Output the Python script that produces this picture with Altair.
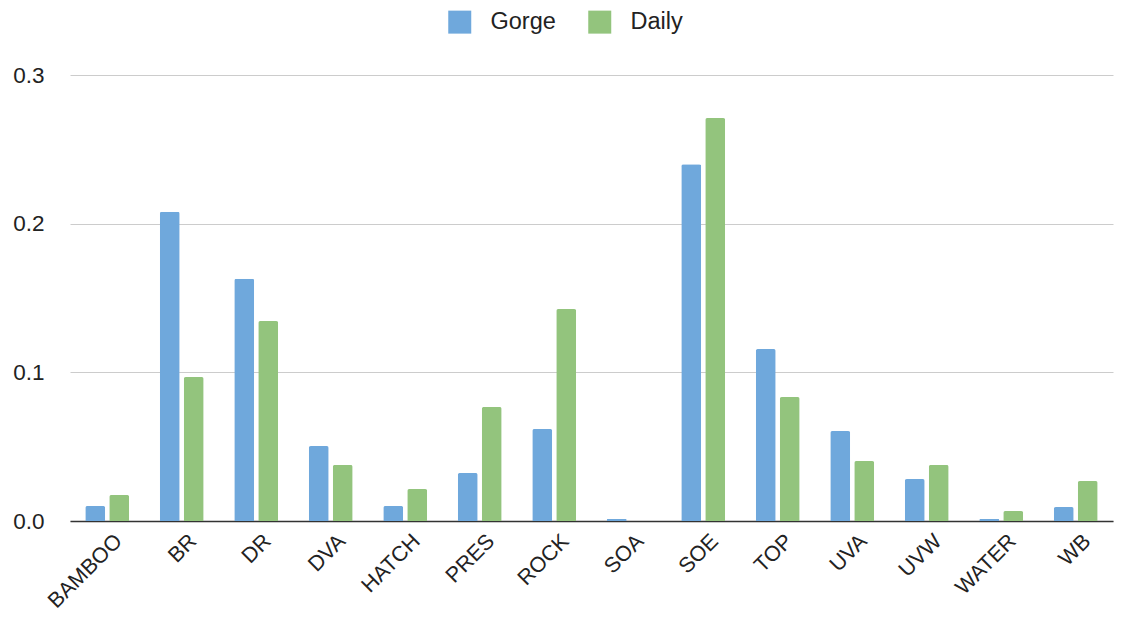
import altair as alt
import pandas as pd

categories = ["BAMBOO", "BR", "DR", "DVA", "HATCH", "PRES", "ROCK", "SOA",
              "SOE", "TOP", "UVA", "UVW", "WATER", "WB"]
gorge = [0.0101, 0.208, 0.163, 0.0504, 0.0101, 0.0323, 0.0619, 0.0013,
         0.240, 0.1157, 0.0605, 0.0282, 0.0013, 0.0094]
daily = [0.0175, 0.0968, 0.1345, 0.0377, 0.0215, 0.0767, 0.1426, 0.0,
         0.271, 0.0834, 0.0403, 0.0377, 0.0067, 0.0269]
series = ["Gorge", "Daily"]
colors = ["#6fa8dc", "#93c47d"]

rows = []
for c, g, d in zip(categories, gorge, daily):
    rows.append({"cat": c, "series": "Gorge", "value": g})
    rows.append({"cat": c, "series": "Daily", "value": d})
df = pd.DataFrame(rows)

FONT = "Liberation Sans"
TXT = "#222222"

chart = alt.Chart(df).mark_bar(
    cornerRadiusTopLeft=2, cornerRadiusTopRight=2
).encode(
    x=alt.X("cat:N", sort=categories, title=None,
            scale=alt.Scale(range=[13, 1056], paddingInner=0.41, paddingOuter=0.205),
            axis=alt.Axis(labelAngle=-45, labelFontSize=21.5, labelFont=FONT,
                          labelColor=TXT, ticks=False, domainColor="#333333",
                          domainWidth=1.5, labelPadding=9, labelOffset=4,
                          grid=False)),
    xOffset=alt.XOffset("series:N", sort=series,
                        scale=alt.Scale(paddingInner=0.1667, paddingOuter=0)),
    y=alt.Y("value:Q", title=None,
            scale=alt.Scale(domain=[0, 0.3], nice=False),
            axis=alt.Axis(values=[0, 0.1, 0.2, 0.3], format=".1f",
                          labelFontSize=22.5, labelFont=FONT, labelColor=TXT,
                          ticks=False, domain=False, gridColor="#cccccc",
                          labelPadding=13)),
    color=alt.Color("series:N", sort=series,
                    scale=alt.Scale(domain=series, range=colors),
                    legend=alt.Legend(title=None, orient="none", direction="horizontal",
                                      legendX=391, legendY=-65,
                                      symbolType="square", symbolSize=529,
                                      symbolStrokeWidth=0, labelFontSize=23.5,
                                      labelFont=FONT, labelColor=TXT,
                                      labelOffset=19, columnPadding=32)),
).properties(
    width=1055, height=446,
    autosize=alt.AutoSizeParams(type="none"),
    padding={"left": 49, "top": 67, "right": 2, "bottom": 93},
).configure_view(stroke=None)

chart.save("out.html", embed_options={"renderer": "svg", "actions": False})
